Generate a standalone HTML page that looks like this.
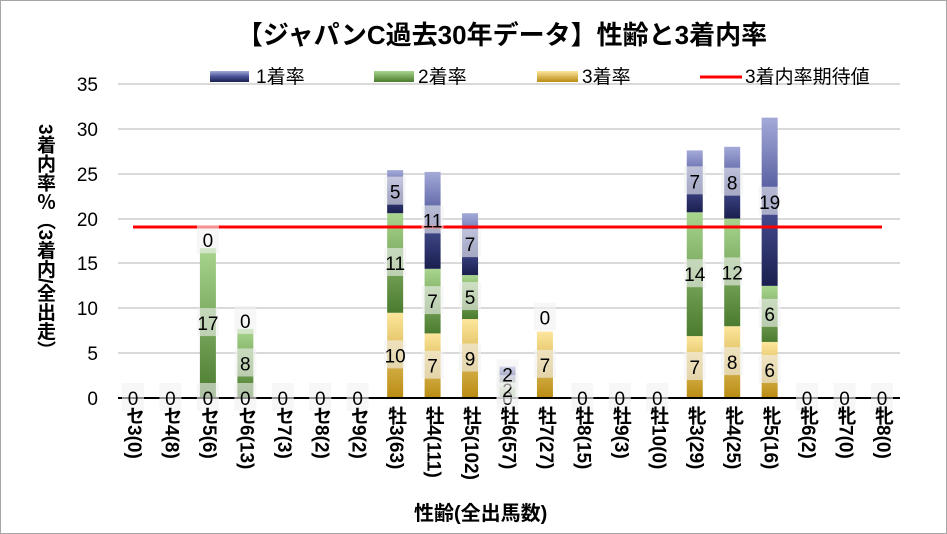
<!DOCTYPE html>
<html><head><meta charset="utf-8"><style>
body{margin:0;background:#fff;}
#c{position:relative;width:947px;height:534px;overflow:hidden;font-family:"Liberation Sans","Noto Sans CJK JP",sans-serif;}
.v{position:absolute;writing-mode:vertical-rl;text-orientation:mixed;font-size:19px;font-weight:bold;color:#000;line-height:22px;width:22px;}
</style></head><body><div id="c">
<svg width="947" height="534" style="position:absolute;left:0;top:0" font-family="Liberation Sans, Noto Sans CJK JP, sans-serif">
<defs>
<linearGradient id="g1" x1="0" y1="0" x2="0" y2="1"><stop offset="0" stop-color="#a4aad8"/><stop offset="0.5" stop-color="#4a5298"/><stop offset="1" stop-color="#1a1f4e"/></linearGradient>
<linearGradient id="g2" x1="0" y1="0" x2="0" y2="1"><stop offset="0" stop-color="#a9d58e"/><stop offset="1" stop-color="#4b7b2e"/></linearGradient>
<linearGradient id="g3" x1="0" y1="0" x2="0" y2="1"><stop offset="0" stop-color="#fde69c"/><stop offset="1" stop-color="#b98b12"/></linearGradient>
</defs>
<rect x="0.5" y="0.5" width="946" height="533" fill="#fff" stroke="#a6a6a6"/>
<text x="502" y="44" font-size="26" font-weight="bold" text-anchor="middle">【ジャパンC過去30年データ】性齢と3着内率</text>
<g stroke="#d9d9d9" stroke-width="2">
<line x1="118" x2="900" y1="84" y2="84"/><line x1="118" x2="900" y1="129" y2="129"/><line x1="118" x2="900" y1="174" y2="174"/><line x1="118" x2="900" y1="219" y2="219"/><line x1="118" x2="900" y1="263" y2="263"/><line x1="118" x2="900" y1="308" y2="308"/><line x1="118" x2="900" y1="353" y2="353"/>
</g>
<g font-size="19" text-anchor="end">
<text x="98" y="91">35</text><text x="98" y="136">30</text><text x="98" y="181">25</text><text x="98" y="226">20</text><text x="98" y="270">15</text><text x="98" y="315">10</text><text x="98" y="360">5</text><text x="98" y="405">0</text>
</g>
<rect x="210" y="71" width="39" height="11" fill="url(#g1)"/><text x="256" y="83" font-size="19">1着率</text>
<rect x="374" y="71" width="40" height="11" fill="url(#g2)"/><text x="418" y="83" font-size="19">2着率</text>
<rect x="537" y="71" width="41" height="11" fill="url(#g3)"/><text x="582" y="83" font-size="19">3着率</text>
<line x1="700" x2="742" y1="77" y2="77" stroke="#f00" stroke-width="3"/><text x="745" y="83" font-size="19">3着内率期待値</text>
<g id="bars"></g>
<line x1="118" x2="900" y1="398" y2="398" stroke="#000" stroke-width="2"/>
<line x1="133" x2="882" y1="227" y2="227" stroke="#f00" stroke-width="3"/>
<g id="labs" font-size="19" text-anchor="middle"></g>
</svg>
<div class="v" style="left:33px;top:124px;">3着内率％（3着内/全出走）</div>
<div id="xl"></div>
<div style="position:absolute;left:414px;top:497px;font-size:20px;font-weight:bold;">性齢(全出馬数)</div>
</div>
<script>
var cats=["セ3(0)","セ4(8)","セ5(6)","セ6(13)","セ7(3)","セ8(2)","セ9(2)","牡3(63)","牡4(111)","牡5(102)","牡6(57)","牡7(27)","牡8(15)","牡9(3)","牡10(0)","牝3(29)","牝4(25)","牝5(16)","牝6(2)","牝7(0)","牝8(0)"];
var d={2:[0,16.7,0],3:[0,7.7,0],7:[9.5,11.1,4.8],8:[7.2,7.2,10.8],9:[8.8,4.9,6.9],10:[0,1.75,1.75],11:[7.4,0,0],15:[6.9,13.8,6.9],16:[8,12,8],17:[6.25,6.25,18.75]};
var n=cats.length,x0=133,dx=(882-133)/(n-1),k=314/35,by=398;
var bars="",labs="",xl="";
var ids=["g3","g2","g1"];
for(var i=0;i<n;i++){
 var cx=x0+i*dx;var v=d[i]||[0,0,0];var y=by;
 for(var s=0;s<3;s++){var h=v[s]*k;
  if(h>0){bars+='<rect x="'+(cx-8)+'" y="'+(y-h)+'" width="16" height="'+h+'" fill="url(#'+ids[s]+')"/>';}
  y-=h;}
}
function L(cx,cy,t){labs+='<rect x="'+(cx-11)+'" y="'+(cy-15)+'" width="22" height="28" fill="#f2f2f2" opacity="0.6"/><text x="'+cx+'" y="'+(cy+7)+'">'+t+'</text>';}
for(var i=0;i<n;i++){var cx=x0+i*dx;
 if(!d[i]){L(cx,398,"0");continue;}
 var v=d[i],y=by;
 for(var s=0;s<3;s++){var h=v[s]*k;var cy=y-h/2;
  if(h==0){ if(s==0)cy=by; else cy=y-8; if(i==11&&s==1)continue; if(i==11&&s==2)cy=y-14; }
  L(cx,cy,Math.round(v[s]));y-=h;}
}
document.getElementById("bars").innerHTML=bars;
document.getElementById("labs").innerHTML=labs;
for(var i=0;i<n;i++){var cx=x0+i*dx;xl+='<div class="v" style="left:'+(cx-11)+'px;top:406px">'+cats[i]+'</div>';}
document.getElementById("xl").innerHTML=xl;
</script>
</body></html>
